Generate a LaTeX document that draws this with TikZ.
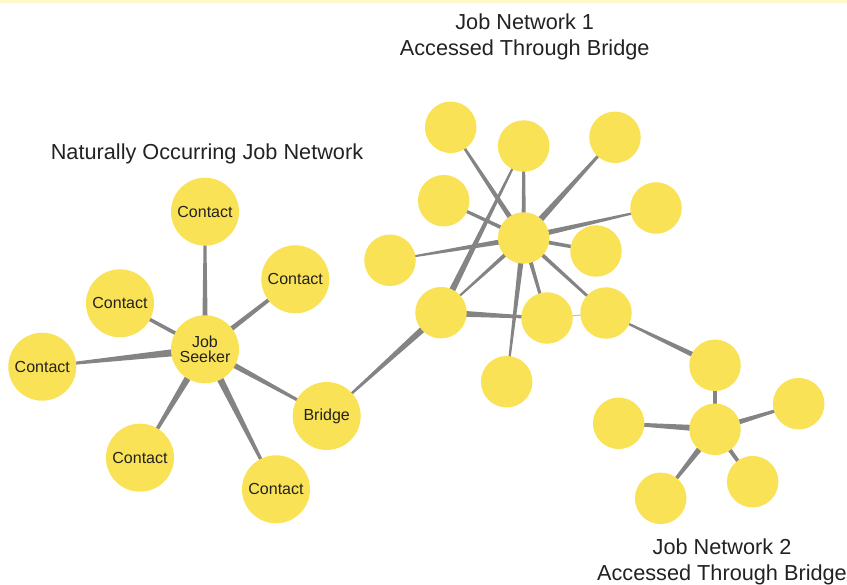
\documentclass[tikz,border=0pt]{standalone}
\usepackage{fontspec}
\setmainfont{Liberation Sans}
\usetikzlibrary{calc,backgrounds}
\definecolor{nodeyellow}{RGB}{249,226,85}
\definecolor{edgegray}{RGB}{132,132,132}
\definecolor{lightedge}{RGB}{190,190,190}
\definecolor{bandyellow}{RGB}{255,246,204}
\definecolor{txt}{RGB}{34,34,34}
\newcommand\conn[5][edgegray]{\fill[#1] ($(#2.center)!#4pt!90:(#3.center)$) -- ($(#3.center)!#5pt!-90:(#2.center)$) -- ($(#3.center)!#5pt!90:(#2.center)$) -- ($(#2.center)!#4pt!-90:(#3.center)$) -- cycle;}
\tikzset{
  bignode/.style={circle,fill=nodeyellow,minimum size=68pt,inner sep=0pt,text=txt,font=\fontsize{16}{15}\selectfont,align=center},
  smallnode/.style={circle,fill=nodeyellow,minimum size=51.5pt,inner sep=0pt},
  title/.style={text=txt,font=\fontsize{21.7}{26}\selectfont,anchor=base,inner sep=0pt}
}
\begin{document}
\begin{tikzpicture}[x=1pt,y=-1pt]
\useasboundingbox (0,0) rectangle (847,585);
\fill[bandyellow] (0,0) rectangle (847,3.5);
% left cluster
\node[bignode] (js) at (205,349.3) {Job\\Seeker};
\node[bignode] (c1) at (205,211.7) {Contact};
\node[bignode] (c2) at (295.3,279.3) {Contact};
\node[bignode] (c3) at (120,303.3) {Contact};
\node[bignode] (c4) at (42.3,366.7) {Contact};
\node[bignode] (c5) at (140,457.7) {Contact};
\node[bignode] (c6) at (276,489.3) {Contact};
\node[bignode] (br) at (326.7,416) {Bridge};
% middle cluster
\node[smallnode] (a) at (450.7,127.3) {};
\node[smallnode] (b) at (523.7,146) {};
\node[smallnode] (c) at (615,137.3) {};
\node[smallnode] (d) at (443.7,200.7) {};
\node[smallnode] (e) at (656,208) {};
\node[smallnode] (hub) at (523.7,238) {};
\node[smallnode] (f) at (596,251) {};
\node[smallnode] (g) at (390,260.3) {};
\node[smallnode] (h) at (441,312.7) {};
\node[smallnode] (i) at (547,318) {};
\node[smallnode] (j) at (606,313) {};
\node[smallnode] (k) at (506.7,381.7) {};
% right cluster
\node[smallnode] (m) at (715,365.3) {};
\node[smallnode] (hubt) at (715,429.3) {};
\node[smallnode] (n) at (618.7,423.3) {};
\node[smallnode] (o) at (798.7,403.7) {};
\node[smallnode] (p) at (660.7,498.3) {};
\node[smallnode] (q) at (752.7,481.7) {};
% titles
\node[title] (t1a) at (524.7,30) {Job Network 1};
\node[title] (t1b) at (524.7,56) {Accessed Through Bridge};
\node[title] (t0) at (207,160) {Naturally Occurring Job Network};
\node[title] (t2a) at (722,554.3) {Job Network 2};
\node[title] (t2b) at (722,580) {Accessed Through Bridge};
\begin{pgfonlayer}{background}
\conn{js}{c1}{3}{1}
\conn{js}{c2}{2.8}{1.5}
\conn{js}{c3}{2}{1.6}
\conn{js}{c4}{4.2}{0.8}
\conn{js}{c5}{4}{1}
\conn{js}{c6}{4}{1}
\conn{js}{br}{3.2}{1}
\conn{br}{h}{0.6}{3.6}
\conn{a}{hub}{1}{2.8}
\conn{b}{hub}{1.2}{2.3}
\conn{c}{hub}{1}{3.5}
\conn{d}{hub}{1.4}{2}
\conn{e}{hub}{0.7}{3}
\conn{g}{hub}{0.6}{2.9}
\conn{f}{hub}{1.6}{2}
\conn{hub}{h}{2.3}{0.7}
\conn{hub}{i}{2.3}{1.2}
\conn{hub}{j}{2.1}{1.2}
\conn{hub}{k}{3}{0.7}
\conn{b}{h}{0.7}{3.5}
\conn{h}{i}{3.5}{1}
\conn[lightedge]{i}{j}{0.5}{0.5}
\conn{j}{m}{0.7}{2.9}
\conn{m}{hubt}{1.6}{2.2}
\conn{n}{hubt}{1.3}{3.5}
\conn{o}{hubt}{1}{3}
\conn{p}{hubt}{1}{3.5}
\conn{q}{hubt}{1.6}{2.3}
\end{pgfonlayer}
\end{tikzpicture}
\end{document}
